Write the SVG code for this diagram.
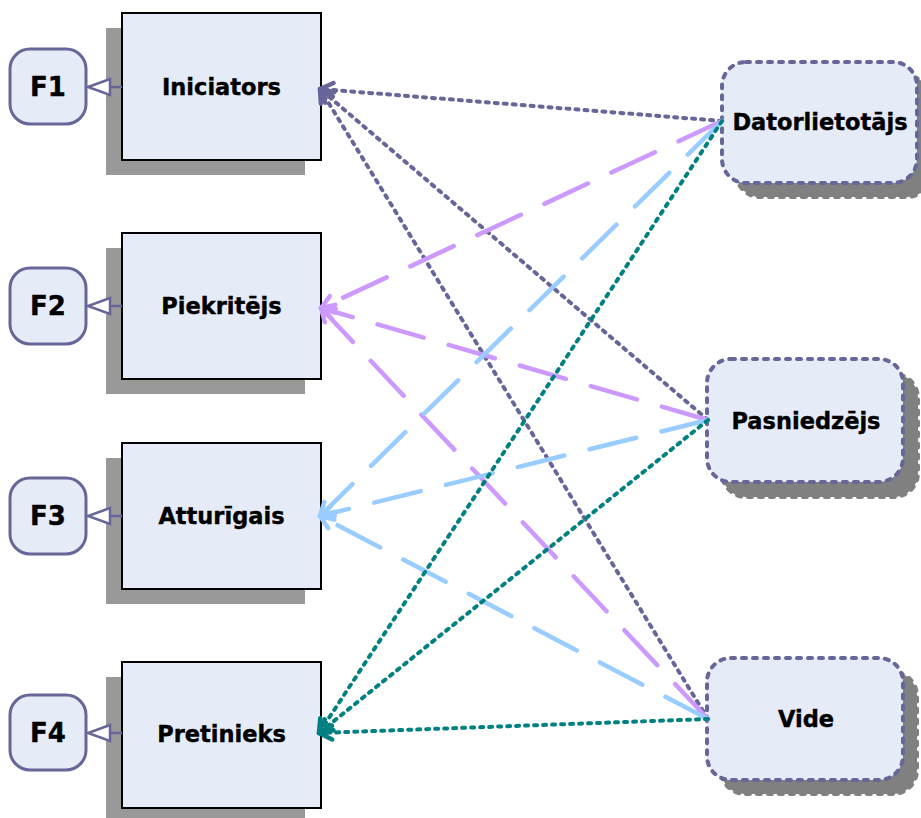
<svg xmlns="http://www.w3.org/2000/svg" width="921" height="818" viewBox="0 0 921 818">
  <style>
    .box { fill: #e6ecf7; stroke: #000; stroke-width: 2; }
    .shadow { fill: #999999; }
    .fnode { fill: #e6ecf7; stroke: #666699; stroke-width: 3; }
    .agent { fill: #e6ecf7; stroke: #666699; stroke-width: 4; stroke-dasharray: 4 7; stroke-linecap: round; }
    .agent-shadow { fill: #808080; stroke: #808080; stroke-width: 4; stroke-dasharray: 4 7; stroke-linecap: round; }
    .label { font-family: "DejaVu Sans", Verdana, sans-serif; font-weight: bold; font-size: 22.5px; fill: #000; stroke: #000; stroke-width: 0.4; text-anchor: middle; dominant-baseline: central; }
    .flabel { font-family: "DejaVu Sans", Verdana, sans-serif; font-weight: bold; font-size: 26px; fill: #000; stroke: #000; stroke-width: 0.4; text-anchor: middle; dominant-baseline: central; }
    .flink { stroke: #666699; stroke-width: 2.5; fill: none; }
    .ftri { stroke: #666699; stroke-width: 2.5; fill: #ffffff; stroke-linejoin: miter; }
    .c-purple { stroke: #666699; stroke-width: 4; fill: none; stroke-dasharray: 3 6; stroke-linecap: round; marker-end: url(#arr-purple); }
    .c-lilac { stroke: #cc99ff; stroke-width: 4.5; fill: none; stroke-dasharray: 48 26; stroke-linecap: round; marker-end: url(#arr-lilac); }
    .c-blue { stroke: #99ccff; stroke-width: 4.5; fill: none; stroke-dasharray: 48 26; stroke-linecap: round; marker-end: url(#arr-blue); }
    .c-teal { stroke: #008080; stroke-width: 4; fill: none; stroke-dasharray: 3 6; stroke-linecap: round; marker-end: url(#arr-teal); }
  </style>
  <defs>
    <marker id="arr-purple" viewBox="-16 -10 18 20" refX="0" refY="0" markerWidth="18" markerHeight="20" markerUnits="userSpaceOnUse" orient="auto" overflow="visible">
      <path d="M-13,-7 L0,0 L-13,7" fill="none" stroke="#666699" stroke-width="4.5" stroke-linecap="round" stroke-linejoin="round"/>
    </marker>
    <marker id="arr-lilac" viewBox="-16 -10 18 20" refX="0" refY="0" markerWidth="18" markerHeight="20" markerUnits="userSpaceOnUse" orient="auto" overflow="visible">
      <path d="M-13,-7 L0,0 L-13,7" fill="none" stroke="#cc99ff" stroke-width="4.5" stroke-linecap="round" stroke-linejoin="round"/>
    </marker>
    <marker id="arr-blue" viewBox="-16 -10 18 20" refX="0" refY="0" markerWidth="18" markerHeight="20" markerUnits="userSpaceOnUse" orient="auto" overflow="visible">
      <path d="M-13,-7 L0,0 L-13,7" fill="none" stroke="#99ccff" stroke-width="4.5" stroke-linecap="round" stroke-linejoin="round"/>
    </marker>
    <marker id="arr-teal" viewBox="-16 -10 18 20" refX="0" refY="0" markerWidth="18" markerHeight="20" markerUnits="userSpaceOnUse" orient="auto" overflow="visible">
      <path d="M-13,-7 L0,0 L-13,7" fill="none" stroke="#008080" stroke-width="4.5" stroke-linecap="round" stroke-linejoin="round"/>
    </marker>
  </defs>

  <rect width="921" height="818" fill="#ffffff"/>

  <!-- Role boxes (left column) -->
  <g id="iniciators">
    <rect class="shadow" x="106" y="28" width="199" height="147"/>
    <rect class="box" x="122" y="13" width="199" height="147"/>
    <text class="label" x="221.5" y="87">Iniciators</text>
  </g>
  <g id="piekritejs">
    <rect class="shadow" x="106" y="248" width="199" height="146"/>
    <rect class="box" x="122" y="233" width="199" height="146"/>
    <text class="label" x="221.5" y="306">Piekritējs</text>
  </g>
  <g id="atturigais">
    <rect class="shadow" x="106" y="458" width="199" height="146"/>
    <rect class="box" x="122" y="443" width="199" height="146"/>
    <text class="label" x="221.5" y="516">Atturīgais</text>
  </g>
  <g id="pretinieks">
    <rect class="shadow" x="106" y="677" width="199" height="146"/>
    <rect class="box" x="122" y="662" width="199" height="146"/>
    <text class="label" x="221.5" y="734">Pretinieks</text>
  </g>

  <!-- Function nodes -->
  <g id="f1">
    <rect class="fnode" x="10" y="49" width="76" height="75" rx="20"/>
    <text class="flabel" x="48" y="87">F1</text>
  </g>
  <g id="f2">
    <rect class="fnode" x="10" y="268" width="76" height="76" rx="20"/>
    <text class="flabel" x="48" y="306">F2</text>
  </g>
  <g id="f3">
    <rect class="fnode" x="10" y="478" width="76" height="76" rx="20"/>
    <text class="flabel" x="48" y="516">F3</text>
  </g>
  <g id="f4">
    <rect class="fnode" x="10" y="695" width="76" height="75" rx="20"/>
    <text class="flabel" x="48" y="733">F4</text>
  </g>

  <!-- Actor nodes (right column) -->
  <g id="datorlietotajs">
    <rect class="agent-shadow" x="736" y="76" width="195" height="121" rx="24"/>
    <rect class="agent" x="722" y="62" width="195" height="121" rx="24"/>
    <text class="label" x="820" y="122">Datorlietotājs</text>
  </g>
  <g id="pasniedzejs">
    <rect class="agent-shadow" x="722" y="374" width="196" height="123" rx="24"/>
    <rect class="agent" x="707" y="359" width="196" height="123" rx="24"/>
    <text class="label" x="806" y="421">Pasniedzējs</text>
  </g>
  <g id="vide">
    <rect class="agent-shadow" x="721" y="672" width="196" height="122" rx="24"/>
    <rect class="agent" x="707" y="658" width="196" height="122" rx="24"/>
    <text class="label" x="806" y="719">Vide</text>
  </g>

  <!-- Connectors -->
  <g id="connectors">
    <!-- role to function links -->
    <line class="flink" x1="122" y1="87" x2="110" y2="87"/>
    <polygon class="ftri" points="110,79 88,87 110,95"/>
    <line class="flink" x1="122" y1="306" x2="110" y2="306"/>
    <polygon class="ftri" points="110,298 88,306 110,314"/>
    <line class="flink" x1="122" y1="516" x2="110" y2="516"/>
    <polygon class="ftri" points="110,508 88,516 110,524"/>
    <line class="flink" x1="122" y1="733" x2="110" y2="733"/>
    <polygon class="ftri" points="110,725 88,733 110,741"/>

    <!-- actors to Iniciators -->
    <path class="c-purple" d="M722,121 L320,89"/>
    <path class="c-purple" d="M708,420 L320,89"/>
    <path class="c-purple" d="M708,719 L320,89"/>

    <!-- actors to Piekritējs -->
    <path class="c-lilac" d="M722,121 L321,308"/>
    <path class="c-lilac" d="M708,420 L321,308"/>
    <path class="c-lilac" d="M708,719 L321,308"/>

    <!-- actors to Atturīgais -->
    <path class="c-blue" d="M722,121 L320,516"/>
    <path class="c-blue" d="M708,420 L320,516"/>
    <path class="c-blue" d="M708,719 L320,516"/>

    <!-- actors to Pretinieks -->
    <path class="c-teal" d="M722,121 L319,733"/>
    <path class="c-teal" d="M708,420 L319,733"/>
    <path class="c-teal" d="M708,719 L319,733"/>
  </g>
</svg>
